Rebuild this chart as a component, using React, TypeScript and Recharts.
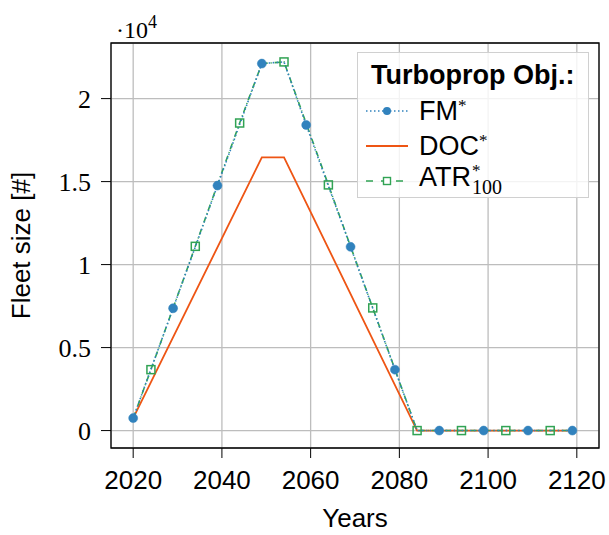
import React from 'react';
import {
  CartesianGrid,
  ComposedChart,
  Line,
  ReferenceArea,
  XAxis,
  YAxis,
} from 'recharts';

// fleet size per year
const fmYears = [2020, 2029, 2039, 2049, 2054, 2059, 2069, 2079, 2084, 2089, 2099, 2109, 2119];
const fmValues = [750, 7370, 14760, 22110, 22210, 18410, 11070, 3670, 0, 0, 0, 0, 0];
const fmMarked = [2020, 2029, 2039, 2049, 2059, 2069, 2079, 2089, 2099, 2109, 2119];

const docYears = [2020, 2049, 2054, 2084, 2119];
const docValues = [750, 16460, 16460, 0, 0];

const atrYears = [2020, 2024, 2034, 2044, 2049, 2054, 2064, 2074, 2084, 2094, 2104, 2114, 2119];
const atrValues = [750, 3670, 11100, 18530, 22110, 22210, 14800, 7390, 0, 0, 0, 0, 0];
const atrMarked = [2024, 2034, 2044, 2054, 2064, 2074, 2084, 2094, 2104, 2114];

const xTicks = [2020, 2040, 2060, 2080, 2100, 2120];
const yTicks = [0, 5000, 10000, 15000, 20000];

const BLUE = '#3182bd';
const ORANGE = '#ee5514';
const GREEN = '#31a354';
const SANS = '"Liberation Sans", Arial, sans-serif';
const SERIF = '"Liberation Serif", "Times New Roman", serif';

const toRows = (years: number[], values: number[]) =>
  years.map((year, i) => ({ year, value: values[i] }));

const fmData = toRows(fmYears, fmValues);
const docData = toRows(docYears, docValues);
const atrData = toRows(atrYears, atrValues);

const circleDot = (props: any) => {
  const { cx, cy, payload, index } = props;
  if (!fmMarked.includes(payload.year)) return <g key={`fm-${index}`} />;
  return <circle key={`fm-${index}`} cx={cx} cy={cy} r={4.5} fill={BLUE} stroke={BLUE} strokeWidth={0.5} />;
};

const squareDot = (props: any) => {
  const { cx, cy, payload, index } = props;
  if (!atrMarked.includes(payload.year)) return <g key={`atr-${index}`} />;
  return (
    <rect
      key={`atr-${index}`}
      x={cx - 4}
      y={cy - 4}
      width={8}
      height={8}
      fill="none"
      stroke={GREEN}
      strokeWidth={1.5}
    />
  );
};

const sampleRow = (icon: React.ReactNode, label: React.ReactNode) => (
  <div style={{ display: 'flex', alignItems: 'center', height: 35 }}>
    <svg width={50} height={20} style={{ marginRight: 5 }}>
      {icon}
    </svg>
    {label}
  </div>
);

const star = <span style={{ fontFamily: SERIF, fontSize: 17, verticalAlign: 9 }}>*</span>;

const ChartLegend = () => (
  <div
    style={{
      position: 'absolute',
      left: 357,
      top: 52,
      width: 232,
      height: 146,
      border: '1px solid #d0d0d0',
      background: 'rgba(255,255,255,0.82)',
      fontFamily: SANS,
      fontSize: 27,
      color: '#000',
      boxSizing: 'border-box',
      padding: '4px 0 0 6px',
      lineHeight: 1,
    }}
  >
    <div style={{ fontWeight: 'bold', marginLeft: 7, height: 36, lineHeight: '36px' }}>Turboprop Obj.:</div>
    {sampleRow(
      <>
        <line x1={2} y1={10} x2={44} y2={10} stroke={BLUE} strokeWidth={1.6} strokeDasharray="1.5 2.5" />
        <circle cx={23} cy={10} r={4} fill={BLUE} />
      </>,
      <span>FM{star}</span>,
    )}
    {sampleRow(
      <line x1={2} y1={10} x2={44} y2={10} stroke={ORANGE} strokeWidth={1.8} />,
      <span>DOC{star}</span>,
    )}
    {sampleRow(
      <>
        <line x1={2} y1={10} x2={44} y2={10} stroke={GREEN} strokeWidth={1.6} strokeDasharray="7 8" />
        <rect x={19.5} y={6.5} width={7} height={7} fill="#fff" stroke={GREEN} strokeWidth={1.4} />
      </>,
      <span style={{ display: 'inline-flex', alignItems: 'flex-start' }}>
        <span style={{ lineHeight: '27px' }}>ATR</span>
        <span
          style={{
            display: 'inline-flex',
            flexDirection: 'column',
            fontFamily: SERIF,
            marginLeft: 1,
          }}
        >
          <span style={{ fontSize: 17, lineHeight: '13px', height: 13 }}>*</span>
          <span style={{ fontSize: 20, lineHeight: '20px', height: 20 }}>100</span>
        </span>
      </span>,
    )}
  </div>
);

export default function App() {
  return (
    <div style={{ position: 'absolute', left: 0, top: 0, width: 609, height: 535, background: '#fff' }}>
      <ComposedChart width={609} height={535} margin={{ top: 43, right: 10, bottom: 0, left: 0 }}>
        <CartesianGrid stroke="#bdbdbd" strokeWidth={1.3} />
        <XAxis
          type="number"
          dataKey="year"
          domain={[2015, 2125]}
          ticks={xTicks}
          allowDataOverflow
          height={87}
          axisLine={false}
          tickLine={{ stroke: '#000', strokeWidth: 1 }}
          tickSize={10}
          tickMargin={13}
          tick={{ fontFamily: SANS, fontSize: 26, fill: '#000' }}
          label={{
            value: 'Years',
            position: 'insideBottom',
            offset: 8,
            style: { fontFamily: SANS, fontSize: 26, fill: '#000' },
          }}
        />
        <YAxis
          type="number"
          domain={[-1050, 23350]}
          ticks={yTicks}
          allowDataOverflow
          width={111}
          axisLine={false}
          tickLine={{ stroke: '#000', strokeWidth: 1 }}
          tickSize={10}
          tickMargin={10}
          tickFormatter={(v) => `${v / 10000}`}
          tick={{ fontFamily: SERIF, fontSize: 26, fill: '#000' }}
          label={{
            value: 'Fleet size [#]',
            angle: -90,
            position: 'insideLeft',
            offset: 21,
            style: { fontFamily: SANS, fontSize: 26, fill: '#000', textAnchor: 'middle' },
          }}
        />
        <ReferenceArea
          x1={2015}
          x2={2125}
          y1={-1050}
          y2={23350}
          fill="none"
          stroke="#000"
          strokeWidth={1.3}
          ifOverflow="visible"
        />
        <Line
          data={docData}
          dataKey="value"
          name="DOC*"
          stroke={ORANGE}
          strokeWidth={1.8}
          dot={false}
          activeDot={false}
          isAnimationActive={false}
        />
        <Line
          data={atrData}
          dataKey="value"
          name="ATR*100"
          stroke={GREEN}
          strokeWidth={1.6}
          strokeDasharray="6 3 1 3"
          dot={squareDot}
          activeDot={false}
          isAnimationActive={false}
        />
        <Line
          data={fmData}
          dataKey="value"
          name="FM*"
          stroke={BLUE}
          strokeWidth={1.6}
          strokeDasharray="1.5 2.5"
          dot={circleDot}
          activeDot={false}
          isAnimationActive={false}
        />
      </ComposedChart>
      <ChartLegend />
      <div
        style={{
          position: 'absolute',
          left: 116,
          top: 7,
          fontFamily: SERIF,
          fontSize: 24,
          lineHeight: '30px',
          color: '#000',
        }}
      >
        ·10<span style={{ fontSize: 18, verticalAlign: 10 }}>4</span>
      </div>
    </div>
  );
}
